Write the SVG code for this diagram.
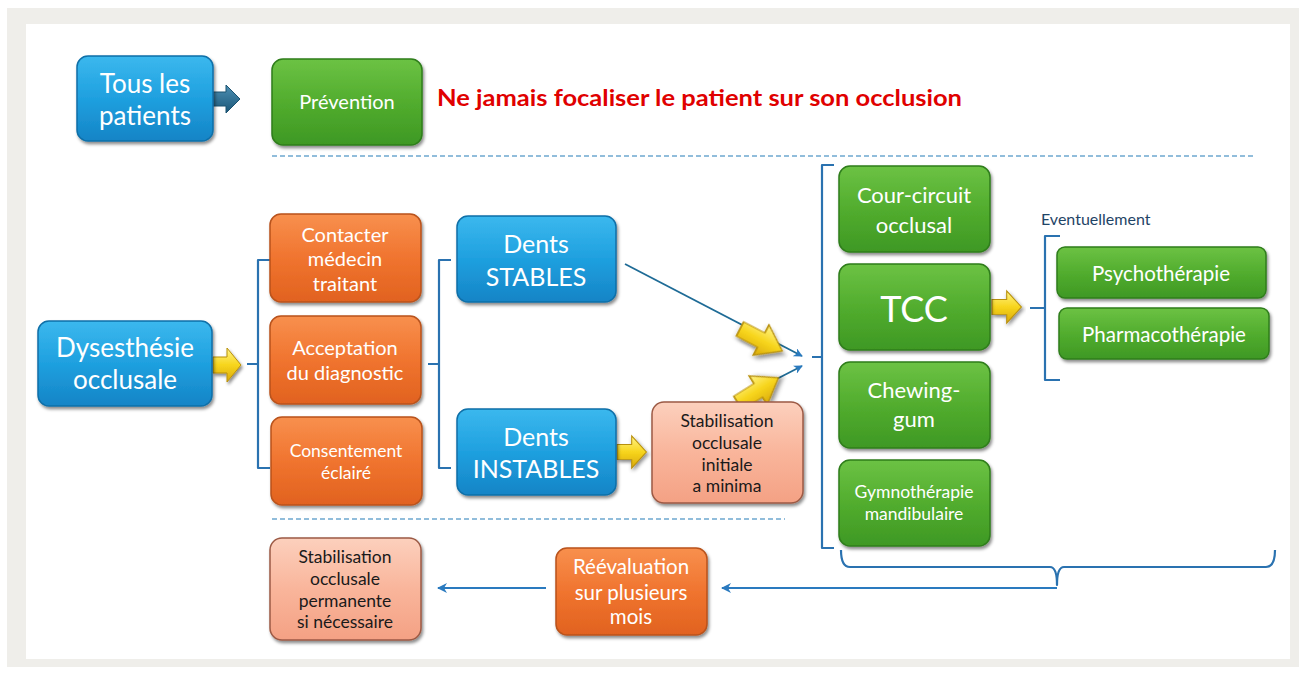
<svg xmlns="http://www.w3.org/2000/svg" width="1306" height="674" viewBox="0 0 1306 674">
<defs>
<linearGradient id="gBlue" x1="0" y1="0" x2="0" y2="1"><stop offset="0" stop-color="#3bb8ee"/><stop offset="0.5" stop-color="#1fa0df"/><stop offset="1" stop-color="#1584c6"/></linearGradient>
<linearGradient id="gGreen" x1="0" y1="0" x2="0" y2="1"><stop offset="0" stop-color="#6cc244"/><stop offset="0.5" stop-color="#52ad2e"/><stop offset="1" stop-color="#3e9824"/></linearGradient>
<linearGradient id="gOrange" x1="0" y1="0" x2="0" y2="1"><stop offset="0" stop-color="#f8904e"/><stop offset="0.5" stop-color="#f0742f"/><stop offset="1" stop-color="#e1621f"/></linearGradient>
<linearGradient id="gSalmon" x1="0" y1="0" x2="0" y2="1"><stop offset="0" stop-color="#fcd0bd"/><stop offset="0.5" stop-color="#f9b59b"/><stop offset="1" stop-color="#f4a184"/></linearGradient>
<linearGradient id="gYellow" x1="0" y1="0" x2="0" y2="1"><stop offset="0" stop-color="#fff48a"/><stop offset="0.5" stop-color="#f7d51c"/><stop offset="1" stop-color="#d9a90a"/></linearGradient>
<linearGradient id="gDark" x1="0" y1="0" x2="0" y2="1"><stop offset="0" stop-color="#4d8fb3"/><stop offset="1" stop-color="#1b5778"/></linearGradient>
<filter id="sh" x="-10%" y="-10%" width="125%" height="130%"><feDropShadow dx="1.5" dy="2.5" stdDeviation="1.8" flood-color="#000" flood-opacity="0.45"/></filter>
<marker id="ahb" viewBox="0 0 10 10" refX="9" refY="5" markerWidth="5" markerHeight="5" orient="auto"><path d="M0,0 L10,5 L0,10 L3,5 Z" fill="#2a7abf"/></marker>
<path id="ya" d="M0,-8 L14,-8 L14,-17 L28,0 L14,17 L14,8 L0,8 Z"/>
</defs>
<style>
.box{filter:url(#sh);stroke-width:1.5}
.blue{fill:url(#gBlue);stroke:#0f6fa8}
.green{fill:url(#gGreen);stroke:#2f7d1a}
.orange{fill:url(#gOrange);stroke:#b9521b}
.salmon{fill:url(#gSalmon);stroke:#9c5a45}
text{font-family:Lato,"Open Sans","Liberation Sans",sans-serif;text-anchor:middle}
.w{fill:#ffffff}
.d{fill:#1a1a1a}
.br{fill:none;stroke:#2a72b0;stroke-width:2.2;stroke-linejoin:round}
.dash{fill:none;stroke:#6ea8d0;stroke-width:1.3;stroke-dasharray:5,3}
.yel{fill:url(#gYellow);stroke:#b8900a;stroke-width:1;filter:url(#sh)}
</style>
<rect x="0" y="0" width="1306" height="674" fill="#ffffff"/>
<rect x="7" y="8" width="1292" height="659" fill="#efeeea"/>
<rect x="26" y="24" width="1264" height="635" fill="#ffffff"/>

<g id="connectors">
<line class="dash" x1="272" y1="156" x2="1255" y2="156"/>
<line class="dash" x1="272" y1="519" x2="785" y2="519"/>
<path d="M213,92 L226,92 L226,85 L240,99 L226,113 L226,106 L213,106 Z" fill="url(#gDark)" stroke="#1b5270" stroke-width="1"/>
<use href="#ya" class="yel" transform="translate(213,365)"/>
<use href="#ya" class="yel" transform="translate(617,452) scale(1.05,0.95)"/>
<use href="#ya" class="yel" transform="translate(992,307) scale(1.05,0.95)"/>
<path class="br" d="M270,260 L258,260 L258,468 L270,468 M258,364 L247,364"/>
<path class="br" d="M451,260 L439,260 L439,468 L451,468 M439,364 L428,364"/>
<path class="br" d="M834,165 L822,165 L822,548 L834,548 M822,357 L812,357"/>
<path class="br" d="M1060,236 L1045,236 L1045,380 L1060,380 M1045,308 L1030,308"/>
<line x1="625" y1="264" x2="802" y2="356" stroke="#1e6b96" stroke-width="1.8" marker-end="url(#ahb)"/>
<line x1="765" y1="385" x2="802" y2="366" stroke="#1e6b96" stroke-width="1.8" marker-end="url(#ahb)"/>
<use href="#ya" class="yel" transform="translate(740,329) rotate(27.5) scale(1.7,1)"/>
<use href="#ya" class="yel" transform="translate(738,403) rotate(-32) scale(1.7,1)"/>
<path class="br" d="M841,550 Q841,567 850,567 L1050,567 Q1057,567 1057,585 Q1057,567 1064,567 L1266,567 Q1275,567 1275,550"/>
<line x1="1057" y1="588" x2="722" y2="588" stroke="#2a7abf" stroke-width="2" marker-end="url(#ahb)"/>
<line x1="546" y1="588" x2="438" y2="588" stroke="#2a7abf" stroke-width="2" marker-end="url(#ahb)"/>
</g>

<g id="tous"><rect class="box blue" x="77" y="56" width="136" height="85" rx="11"/>
<text class="w" font-size="26" x="145" y="93">Tous les</text><text class="w" font-size="26" x="145" y="125">patients</text></g>
<g id="prevention"><rect class="box green" x="272" y="59" width="150" height="86" rx="11"/>
<text class="w" font-size="20" x="347" y="109">Prévention</text></g>
<g id="warning"><text x="437" y="106" font-family="Liberation Sans,Arial,sans-serif" font-weight="bold" font-size="22" fill="#e00000" style="text-anchor:start" textLength="525" lengthAdjust="spacingAndGlyphs">Ne jamais focaliser le patient sur son occlusion</text></g>

<g id="dys"><rect class="box blue" x="38" y="321" width="174" height="85" rx="11"/>
<text class="w" font-size="26" x="125" y="357">Dysesthésie</text><text class="w" font-size="26" x="125" y="389">occlusale</text></g>

<g id="contacter"><rect class="box orange" x="270" y="214" width="151" height="88" rx="11"/>
<text class="w" font-size="20" x="345" y="242">Contacter</text><text class="w" font-size="20" x="345" y="266">médecin</text><text class="w" font-size="20" x="345" y="291">traitant</text></g>
<g id="acceptation"><rect class="box orange" x="270" y="316" width="151" height="88" rx="11"/>
<text class="w" font-size="20" x="345" y="355">Acceptation</text><text class="w" font-size="20" x="345" y="380">du diagnostic</text></g>
<g id="consentement"><rect class="box orange" x="271" y="417" width="151" height="88" rx="11"/>
<text class="w" font-size="17.5" x="346" y="457">Consentement</text><text class="w" font-size="17.5" x="346" y="479">éclairé</text></g>

<g id="stables"><rect class="box blue" x="457" y="216" width="159" height="86" rx="11"/>
<text class="w" font-size="25" x="536" y="253">Dents</text><text class="w" font-size="25" x="536" y="286">STABLES</text></g>
<g id="instables"><rect class="box blue" x="457" y="409" width="159" height="86" rx="11"/>
<text class="w" font-size="25" x="536" y="446">Dents</text><text class="w" font-size="25" x="536" y="478">INSTABLES</text></g>
<g id="stabinit"><rect class="box salmon" x="652" y="402" width="151" height="101" rx="12"/>
<text class="d" font-size="17.5" x="727" y="427">Stabilisation</text><text class="d" font-size="17.5" x="727" y="449">occlusale</text><text class="d" font-size="17.5" x="727" y="471">initiale</text><text class="d" font-size="17.5" x="727" y="492">a minima</text></g>

<g id="courcircuit"><rect class="box green" x="839" y="166" width="151" height="86" rx="11"/>
<text class="w" font-size="22" x="914" y="203">Cour-circuit</text><text class="w" font-size="22" x="914" y="233">occlusal</text></g>
<g id="tcc"><rect class="box green" x="839" y="264" width="151" height="86" rx="11"/>
<text class="w" font-size="36" x="914" y="322">TCC</text></g>
<g id="chewing"><rect class="box green" x="839" y="362" width="151" height="86" rx="11"/>
<text class="w" font-size="22" x="914" y="398">Chewing-</text><text class="w" font-size="22" x="914" y="427">gum</text></g>
<g id="gymno"><rect class="box green" x="839" y="460" width="151" height="86" rx="11"/>
<text class="w" font-size="17.5" x="914" y="498">Gymnothérapie</text><text class="w" font-size="17.5" x="914" y="520">mandibulaire</text></g>

<g id="eventuellement"><text x="1041" y="225" font-size="16" fill="#1f4466" style="text-anchor:start">Eventuellement</text></g>
<g id="psycho"><rect class="box green" x="1057" y="247" width="209" height="51" rx="8"/>
<text class="w" font-size="20.5" x="1161" y="281">Psychothérapie</text></g>
<g id="pharma"><rect class="box green" x="1059" y="308" width="210" height="51" rx="8"/>
<text class="w" font-size="20.5" x="1164" y="342">Pharmacothérapie</text></g>

<g id="reevaluation"><rect class="box orange" x="556" y="548" width="151" height="87" rx="11"/>
<text class="w" font-size="20.5" x="631" y="574">Réévaluation</text><text class="w" font-size="20.5" x="631" y="600">sur plusieurs</text><text class="w" font-size="20.5" x="631" y="624">mois</text></g>
<g id="stabperm"><rect class="box salmon" x="270" y="538" width="151" height="102" rx="12"/>
<text class="d" font-size="17.5" x="345" y="563">Stabilisation</text><text class="d" font-size="17.5" x="345" y="585">occlusale</text><text class="d" font-size="17.5" x="345" y="607">permanente</text><text class="d" font-size="17.5" x="345" y="628">si nécessaire</text></g>
</svg>
